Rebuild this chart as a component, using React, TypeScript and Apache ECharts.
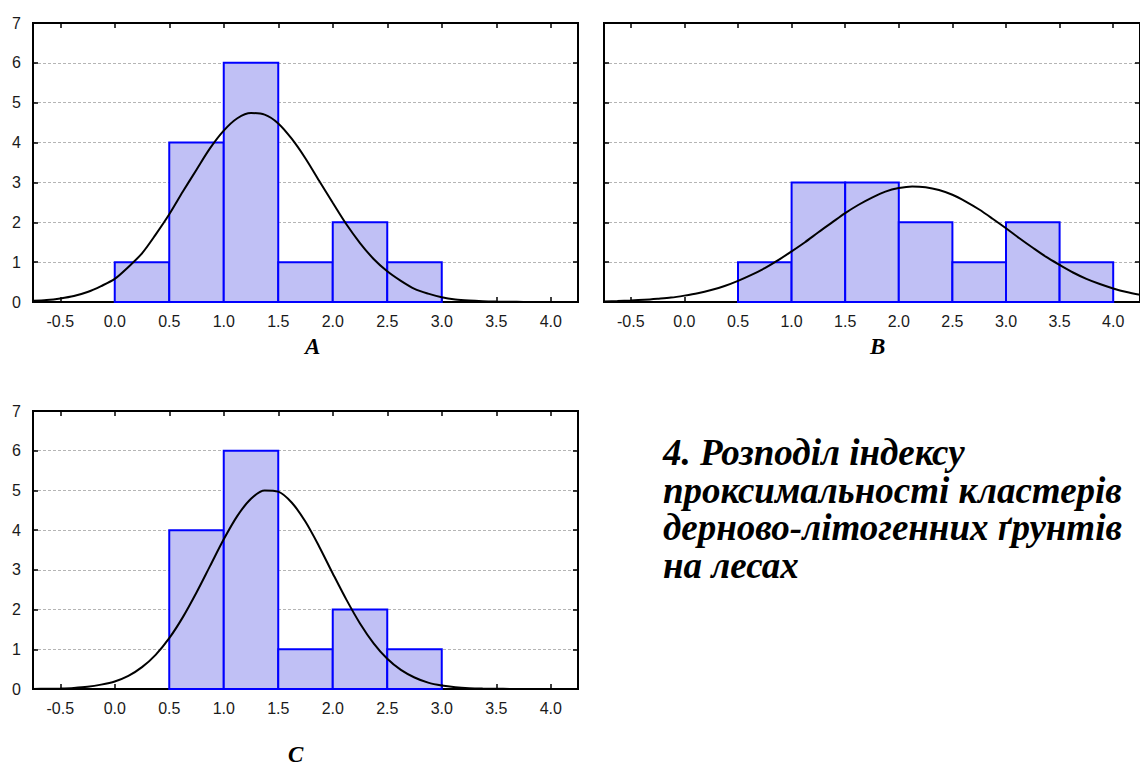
import React, { useEffect, useRef } from "react";
import * as echarts from "echarts";

// Histogram bins (lower edge, upper edge) and counts per panel
const binLowA = [0.0, 0.5, 1.0, 1.5, 2.0, 2.5];
const binHighA = [0.5, 1.0, 1.5, 2.0, 2.5, 3.0];
const countsA = [1, 4, 6, 1, 2, 1];

const binLowB = [0.5, 1.0, 1.5, 2.0, 2.5, 3.0, 3.5];
const binHighB = [1.0, 1.5, 2.0, 2.5, 3.0, 3.5, 4.0];
const countsB = [1, 3, 3, 2, 1, 2, 1];

const binLowC = [0.5, 1.0, 1.5, 2.0, 2.5];
const binHighC = [1.0, 1.5, 2.0, 2.5, 3.0];
const countsC = [4, 6, 1, 2, 1];

// Fitted normal curve at x steps of 0.125
const curveX = [
  -0.75, -0.625, -0.5, -0.375, -0.25, -0.125, 0.0, 0.125, 0.25, 0.375,
  0.5, 0.625, 0.75, 0.875, 1.0, 1.125, 1.25, 1.375, 1.5, 1.625,
  1.75, 1.875, 2.0, 2.125, 2.25, 2.375, 2.5, 2.625, 2.75, 2.875,
  3.0, 3.125, 3.25, 3.375, 3.5, 3.625, 3.75, 3.875, 4.0, 4.125, 4.25,
];
const curveA = [
  0.03, 0.05, 0.09, 0.15, 0.25, 0.4, 0.58, 0.88, 1.22, 1.69,
  2.2, 2.77, 3.32, 3.86, 4.3, 4.61, 4.74, 4.7, 4.48, 4.09,
  3.6, 3.04, 2.49, 1.95, 1.48, 1.08, 0.77, 0.53, 0.33, 0.21,
  0.12, 0.065, 0.036, 0.019, 0.01, 0.005, 0.002, 0.001, 0.0, 0.0, 0.0,
];
const curveB = [
  0.015, 0.023, 0.036, 0.054, 0.08, 0.11, 0.16, 0.22, 0.3, 0.4,
  0.53, 0.68, 0.85, 1.05, 1.27, 1.5, 1.75, 1.99, 2.23, 2.44,
  2.62, 2.77, 2.86, 2.9, 2.88, 2.81, 2.69, 2.52, 2.32, 2.09,
  1.85, 1.6, 1.36, 1.13, 0.93, 0.74, 0.58, 0.45, 0.34, 0.25, 0.18,
];
const curveC = [
  0.0, 0.006, 0.013, 0.027, 0.055, 0.11, 0.19, 0.33, 0.55, 0.86,
  1.28, 1.81, 2.43, 3.1, 3.77, 4.36, 4.79, 5.0, 4.97, 4.69,
  4.21, 3.59, 2.91, 2.25, 1.65, 1.15, 0.76, 0.48, 0.29, 0.16,
  0.088, 0.046, 0.022, 0.01, 0.005, 0.002, 0.001, 0.0, 0.0, 0.0, 0.0,
];

// Axis ticks
const xTicks = [-0.5, 0.0, 0.5, 1.0, 1.5, 2.0, 2.5, 3.0, 3.5, 4.0];
const yTicks = [0, 1, 2, 3, 4, 5, 6, 7];

const panelLabels = ["A", "B", "C"];
const titleLines = [
  "4. Розподіл індексу",
  "проксимальності кластерів",
  "дерново-літогенних ґрунтів",
  "на лесах",
];

const SANS = "Liberation Sans";
const SERIF = "Liberation Serif";

export default function App() {
  const ref = useRef<HTMLDivElement>(null);

  useEffect(() => {
    if (!ref.current) return;
    const chart = echarts.init(ref.current, null, { renderer: "svg" });

    const grids = [
      { left: 33, top: 23, width: 545, height: 279 },
      { left: 604, top: 23, width: 546, height: 279 },
      { left: 33, top: 411, width: 545, height: 278 },
    ];

    const xAxes: any[] = [];
    const yAxes: any[] = [];
    grids.forEach((_, gi) => {
      const baseX = {
        type: "value",
        gridIndex: gi,
        min: -0.75,
        max: 4.25,
        splitLine: { show: false },
        axisLine: { show: true, onZero: false, lineStyle: { color: "#000", width: 2 } },
        axisTick: {
          show: true,
          inside: true,
          length: 5,
          customValues: xTicks,
          lineStyle: { color: "#000", width: 1.5 },
        },
      };
      xAxes.push({
        ...baseX,
        position: "bottom",
        axisLabel: {
          show: true,
          customValues: xTicks,
          formatter: (v: number) => v.toFixed(1),
          fontFamily: SANS,
          fontSize: 16,
          color: "#1a1a1a",
          margin: 11,
        },
      });
      xAxes.push({
        ...baseX,
        position: "top",
        axisLabel: { show: false },
      });
      const baseY = {
        type: "value",
        gridIndex: gi,
        min: 0,
        max: 7,
        interval: 1,
        axisLine: { show: true, onZero: false, lineStyle: { color: "#000", width: 2 } },
        axisTick: {
          show: true,
          inside: true,
          length: 5,
          lineStyle: { color: "#000", width: 1.5 },
        },
      };
      yAxes.push({
        ...baseY,
        position: "left",
        splitLine: {
          show: true,
          lineStyle: { color: "#b5b5b5", type: [3, 2], width: 1 },
        },
        axisLabel: {
          show: gi !== 1,
          fontFamily: SANS,
          fontSize: 16,
          color: "#1a1a1a",
          margin: 12,
          customValues: yTicks,
        },
      });
      yAxes.push({
        ...baseY,
        position: "right",
        splitLine: { show: false },
        axisLabel: { show: false },
      });
    });

    const makeBars = (lows: number[], highs: number[], counts: number[], gi: number) => ({
      type: "custom",
      xAxisIndex: gi * 2,
      yAxisIndex: gi * 2,
      data: lows.map((l, i) => [l, highs[i], counts[i]]),
      renderItem: (params: any, api: any) => {
        const p0 = api.coord([api.value(0), 0]);
        const p1 = api.coord([api.value(1), api.value(2)]);
        return {
          type: "rect",
          shape: { x: p0[0], y: p1[1], width: p1[0] - p0[0], height: p0[1] - p1[1] },
          style: { fill: "#c0c0f5", stroke: "#0000ff", lineWidth: 2 },
        };
      },
      z: 2,
    });

    const makeCurve = (vals: number[], gi: number) => ({
      type: "line",
      xAxisIndex: gi * 2,
      yAxisIndex: gi * 2,
      data: curveX.map((x, i) => [x, vals[i]]),
      smooth: 0.3,
      showSymbol: false,
      symbol: "none",
      lineStyle: { color: "#000", width: 2 },
      z: 5,
    });

    const serifStyle = (text: string, size: number) => ({
      text,
      fontFamily: SERIF,
      fontStyle: "italic",
      fontWeight: "bold",
      fontSize: size,
      fill: "#000",
    });

    const option: any = {
      animation: false,
      backgroundColor: "#fff",
      grid: grids.map((g) => ({
        ...g,
        show: true,
        borderColor: "#000",
        borderWidth: 2,
        backgroundColor: "transparent",
        containLabel: false,
      })),
      xAxis: xAxes,
      yAxis: yAxes,
      series: [
        makeBars(binLowA, binHighA, countsA, 0),
        makeBars(binLowB, binHighB, countsB, 1),
        makeBars(binLowC, binHighC, countsC, 2),
        makeCurve(curveA, 0),
        makeCurve(curveB, 1),
        makeCurve(curveC, 2),
      ],
      graphic: [
        { type: "text", left: 305, top: 335, style: serifStyle(panelLabels[0], 23) },
        { type: "text", left: 870, top: 335, style: serifStyle(panelLabels[1], 23) },
        { type: "text", left: 288, top: 743, style: serifStyle(panelLabels[2], 23) },
        ...titleLines.map((t, i) => ({
          type: "text",
          left: 663,
          top: 434 + i * 37.7,
          style: serifStyle(t, 37),
        })),
      ],
    };

    chart.setOption(option);
    return () => chart.dispose();
  }, []);

  return (
    <div
      ref={ref}
      style={{ position: "absolute", left: 0, top: 0, width: 1140, height: 769, background: "#fff" }}
    />
  );
}
